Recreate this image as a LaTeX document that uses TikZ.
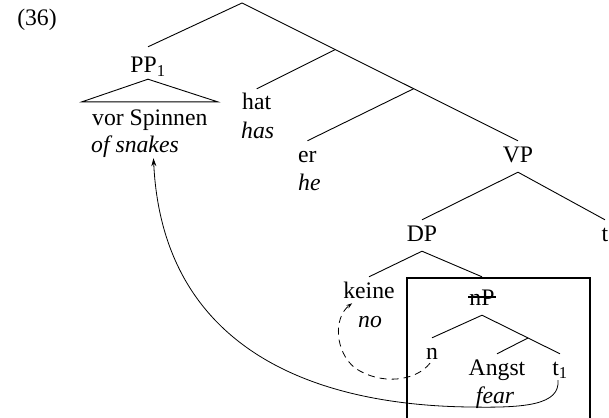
\documentclass[tikz,border=0pt]{standalone}
\usepackage{fontspec}
\setmainfont{Liberation Serif}
\usetikzlibrary{arrows.meta,calc}
\begin{document}
\begin{tikzpicture}[x=1pt,y=-1pt,
  lbl/.style={anchor=base,inner xsep=0pt,inner ysep=5pt,text height=16pt,text depth=5pt,font=\fontsize{23.7}{28}\selectfont},
  gl/.style={lbl,font=\fontsize{23.7}{28}\selectfont\itshape},
  br/.style={line width=0.9pt},
  mv/.style={line width=0.8pt,-{Stealth[length=8pt,width=5pt]}},
  dmv/.style={line width=0.8pt,dash pattern=on 7pt off 5pt,-{Stealth[length=6pt,width=4pt]}},
]
\useasboundingbox (0,0) rectangle (609,417);
\node[lbl] (ex) at (37,26) {(36)};
\coordinate (root) at (242,3);
\node[lbl,text height=21pt,text depth=1pt] (pp) at (148,73) {PP\textsubscript{1}};
\node[lbl,anchor=base west] (vs) at (92,125) {vor Spinnen};
\node[gl,anchor=base west] (vsg) at (91,152) {of snakes};
\node[lbl,anchor=base west] (hat) at (242,110) {hat};
\node[gl,anchor=base west] (hatg) at (241,138) {has};
\node[lbl,anchor=base west] (er) at (298,162) {er};
\node[gl,anchor=base west] (erg) at (298,190) {he};
\node[lbl] (vp) at (518,162) {VP};
\node[lbl] (dp) at (422,241) {DP};
\node[lbl] (t) at (605,241) {t};
\node[lbl] (keine) at (369,298) {keine};
\node[gl] (no) at (370,327) {no};
\node[lbl,text height=23pt] (np) at (482,305) {nP};
\node[lbl] (n) at (432,359) {n};
\node[lbl] (angst) at (497,375) {Angst};
\node[gl] (fear) at (495,403) {fear};
\node[lbl] (t1) at (560,375) {t\textsubscript{1}};

% tree
\draw[br] (root) -- (pp.north);
\draw[br] (root) -- (vp.north);
\coordinate (b1) at ($(root)!0.338!(vp.north)$);
\coordinate (b2) at ($(root)!0.622!(vp.north)$);
\draw[br] (b1) -- (hat.north);
\draw[br] (b2) -- (er.north);
\draw[br] (pp.south) -- ($(vs.north west)+(-10,-2)$) -- ($(vs.north east)+(10,-2)$) -- cycle;
\draw[br] (vp.south) -- (t.north);
\draw[br] (vp.south) -- (dp.north);
\draw[br] (dp.south) -- (keine.north);
\begin{scope}
  \clip (0,0) rectangle (609,278);
  \draw[br] (dp.south) -- (np.north);
\end{scope}
\coordinate (b3) at ($(np.south)!0.59!(t1.north)$);
\draw[br] (np.south) -- (n.north);
\draw[br] (np.south) -- (t1.north);
\draw[br] (b3) -- (angst.north);

% strike-through on nP
\draw[line width=1.1pt] ($(np.base west)+(-1,-8)$) -- ($(np.base east)+(1,-8)$);

% box
\draw[line width=2pt] (407,418) -- (407,278) -- (590,278) -- (590,418);

% movement arrows
\coordinate (bend) at (470,407);
\draw[mv] ($(t1.south)+(-2,-5)$) .. controls (560,405) and (525,408) .. (bend)
  .. controls (300,405) and (162,340) .. ($(vsg.south)+(18.5,-4)$);
\coordinate (dbend) at (355,368);
\draw[dmv] ($(n.south)+(-2,-6)$) .. controls (415,382) and (380,385) .. (dbend)
  .. controls (335,352) and (333,318) .. ($(keine.south west)+(9,-5)$);
\end{tikzpicture}
\end{document}
